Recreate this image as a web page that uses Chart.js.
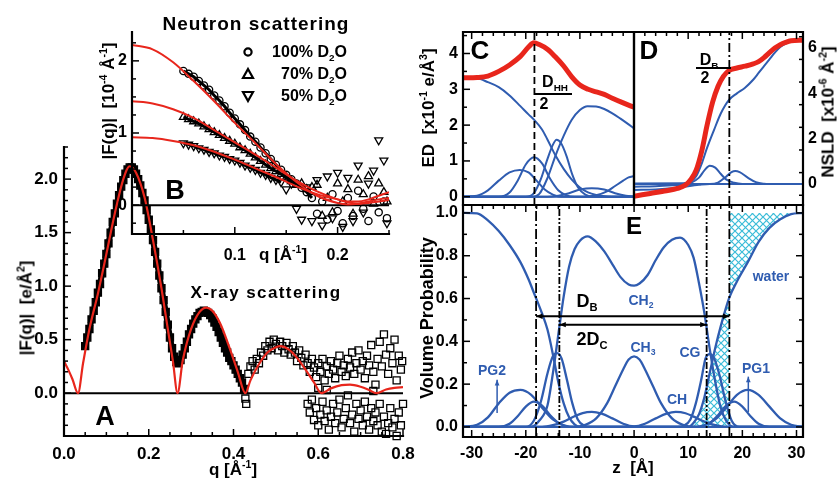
<!DOCTYPE html>
<html>
<head>
<meta charset="utf-8">
<script src="https://cdn.jsdelivr.net/npm/chart.js@4.4.1/dist/chart.umd.min.js"></script>
<style>
  html, body { margin: 0; padding: 0; background: #fff; }
  #fig { position: relative; width: 839px; height: 478px; overflow: hidden; font-family: 'Liberation Sans', Arial, sans-serif; font-weight: bold; color: #000; }
  #fig canvas { position: absolute; left: 0; top: 0; }
  .t { position: absolute; white-space: nowrap; line-height: 1; transform: translate(-50%, -50%); }
  .r { transform: translate(-50%, -50%) rotate(-90deg); }
  .re { transform: translate(-100%, -50%); }
  .blue { color: #2f5cb0; }
  sub, sup { font-size: 62%; line-height: 0; }
  sub { vertical-align: -0.4em; }
  sup { vertical-align: 0.65em; }
  .bar { position: absolute; height: 2px; background: #000; }
</style>
</head>
<body>
<div id="fig">
  <canvas id="chartA" width="839" height="478"></canvas>
  <canvas id="chartB" width="839" height="478"></canvas>
  <canvas id="chartC" width="839" height="478"></canvas>
  <canvas id="chartD" width="839" height="478"></canvas>
  <canvas id="chartE" width="839" height="478"></canvas>

  <!-- panel A -->
  <div class="t r" style="left:26px;top:308px;font-size:17px">|F(q)|&nbsp; [e/Å<sup>2</sup>]</div>
  <div class="t" style="left:233px;top:469px;font-size:17px">q [Å<sup>-1</sup>]</div>
  <div class="t" style="left:266px;top:292px;font-size:17px;letter-spacing:1.4px">X-ray scattering</div>
  <div class="t" style="left:105px;top:416px;font-size:27px">A</div>

  <!-- panel B -->
  <div class="t" style="left:256px;top:23px;font-size:19px;letter-spacing:1px">Neutron scattering</div>
  <div class="t re" style="left:347px;top:52px;font-size:16px">100% D<sub>2</sub>O</div>
  <div class="t re" style="left:347px;top:74px;font-size:16px">70% D<sub>2</sub>O</div>
  <div class="t re" style="left:347px;top:96px;font-size:16px">50% D<sub>2</sub>O</div>
  <div class="t r" style="left:108px;top:101px;font-size:17px">|F(q)|&nbsp; [10<sup>-4</sup> Å<sup>-1</sup>]</div>
  <div class="t" style="left:283px;top:254px;font-size:17px">q [Å<sup>-1</sup>]</div>
  <div class="t" style="left:175px;top:190px;font-size:27px">B</div>

  <!-- panels C, D, E -->
  <div class="t r" style="left:428px;top:108px;font-size:17px">ED&nbsp; [x10<sup>-1</sup> e/Å<sup>3</sup>]</div>
  <div class="t r" style="left:828px;top:112px;font-size:17px">NSLD&nbsp; [x10<sup>-6</sup> Å<sup>-2</sup>]</div>
  <div class="t r" style="left:427px;top:318px;font-size:18px">Volume Probability</div>
  <div class="t" style="left:633px;top:467px;font-size:17px">z&nbsp; [Å]</div>
  <div class="t" style="left:480px;top:50px;font-size:26px">C</div>
  <div class="t" style="left:649px;top:50px;font-size:26px">D</div>
  <div class="t" style="left:634px;top:226px;font-size:24px">E</div>

  <div class="t" style="left:555px;top:82px;font-size:16px">D<sub>HH</sub></div>
  <div class="bar" style="left:535px;top:93px;width:37px"></div>
  <div class="t" style="left:544px;top:104px;font-size:16px">2</div>

  <div class="t" style="left:709px;top:60px;font-size:16px">D<sub>B</sub></div>
  <div class="bar" style="left:696px;top:67px;width:35px"></div>
  <div class="t" style="left:705px;top:78px;font-size:16px">2</div>

  <div class="t" style="left:587px;top:301px;font-size:18px">D<sub>B</sub></div>
  <div class="t" style="left:592px;top:339px;font-size:18px">2D<sub>C</sub></div>
  <div class="t blue" style="left:641px;top:300px;font-size:14px">CH<sub>2</sub></div>
  <div class="t blue" style="left:643px;top:347px;font-size:14px">CH<sub>3</sub></div>
  <div class="t blue" style="left:690px;top:352px;font-size:14px">CG</div>
  <div class="t blue" style="left:677px;top:399px;font-size:14px">CH</div>
  <div class="t blue" style="left:492px;top:370px;font-size:14px">PG2</div>
  <div class="t blue" style="left:756px;top:368px;font-size:14px">PG1</div>
  <div class="t blue" style="left:771px;top:276px;font-size:14px">water</div>
</div>

<script>
// ---- panel A: X-ray form factor ----
const xrayFitQ = [0.00, 0.01, 0.02, 0.033, 0.045, 0.06, 0.08, 0.10, 0.12, 0.14, 0.155, 0.17, 0.19, 0.21, 0.23, 0.245, 0.257, 0.268,
  0.28, 0.30, 0.32, 0.336, 0.35, 0.37, 0.39, 0.41, 0.428, 0.44, 0.46, 0.48, 0.50, 0.51, 0.53, 0.55, 0.57, 0.59, 0.607,
  0.63, 0.655, 0.675, 0.70, 0.72, 0.737, 0.76, 0.78, 0.80];
const xrayFitF = [0.30, 0.22, 0.13, 0.00, 0.28, 0.60, 0.93, 1.30, 1.68, 2.00, 2.12, 2.06, 1.83, 1.43, 0.98, 0.60, 0.30, 0.00,
  0.30, 0.60, 0.76, 0.80, 0.77, 0.64, 0.43, 0.20, 0.00, 0.12, 0.27, 0.38, 0.43, 0.44, 0.41, 0.33, 0.22, 0.10, 0.00,
  0.045, 0.075, 0.08, 0.06, 0.03, 0.00, 0.035, 0.05, 0.056];

const xrayQ = [0.050, 0.055, 0.060, 0.065, 0.070, 0.075, 0.080, 0.085, 0.090, 0.095, 0.100, 0.105, 0.110, 0.115, 0.120, 0.125,
  0.130, 0.135, 0.140, 0.145, 0.150, 0.155, 0.160, 0.165, 0.170, 0.175, 0.180, 0.185, 0.190, 0.195, 0.200, 0.205, 0.210,
  0.215, 0.220, 0.225, 0.230, 0.235, 0.240, 0.245, 0.250, 0.255, 0.260, 0.265, 0.270, 0.275, 0.280, 0.285, 0.290, 0.295,
  0.300, 0.305, 0.310, 0.315, 0.320, 0.325, 0.330, 0.335, 0.340, 0.345, 0.350, 0.355, 0.360, 0.365, 0.370, 0.375, 0.380,
  0.385, 0.390, 0.395, 0.400, 0.405, 0.410, 0.415, 0.420, 0.425,
  0.428, 0.430, 0.435, 0.440, 0.445, 0.450, 0.455, 0.460, 0.465, 0.470, 0.475, 0.480, 0.485, 0.490, 0.495, 0.500, 0.505,
  0.510, 0.515, 0.520, 0.525, 0.530, 0.535, 0.540, 0.545, 0.550, 0.555, 0.560, 0.565, 0.570, 0.575, 0.580, 0.585, 0.590,
  0.595, 0.600, 0.605, 0.610, 0.615, 0.620, 0.625, 0.630, 0.635, 0.640, 0.645, 0.650, 0.655, 0.660, 0.665, 0.670, 0.675,
  0.680, 0.685, 0.690, 0.695, 0.700, 0.705, 0.710, 0.715, 0.720, 0.725, 0.730, 0.735, 0.740, 0.745, 0.750, 0.755, 0.760,
  0.765, 0.770, 0.775, 0.780, 0.785, 0.790, 0.795, 0.798, 0.600, 0.620, 0.730,
  0.575, 0.580, 0.585, 0.590, 0.595, 0.600, 0.605, 0.610, 0.615, 0.620, 0.625, 0.630, 0.635, 0.640, 0.645, 0.650, 0.655,
  0.660, 0.665, 0.670, 0.675, 0.680, 0.685, 0.690, 0.695, 0.700, 0.705, 0.710, 0.715, 0.720, 0.725, 0.730, 0.735, 0.740,
  0.745, 0.750, 0.755, 0.760, 0.765, 0.770, 0.775, 0.780, 0.785, 0.790, 0.795, 0.800];
const xrayF = [0.44, 0.52, 0.60, 0.69, 0.77, 0.85, 0.94, 1.02, 1.12, 1.21, 1.30, 1.40, 1.50, 1.60, 1.68, 1.77,
  1.85, 1.93, 1.99, 2.05, 2.09, 2.11, 2.11, 2.09, 2.05, 2.00, 1.94, 1.87, 1.80, 1.71, 1.62, 1.53, 1.43,
  1.32, 1.21, 1.10, 0.98, 0.87, 0.76, 0.64, 0.52, 0.42, 0.34, 0.29, 0.28, 0.31, 0.36, 0.42, 0.48, 0.55,
  0.60, 0.65, 0.69, 0.72, 0.75, 0.76, 0.77, 0.76, 0.75, 0.73, 0.70, 0.66, 0.62, 0.57, 0.52, 0.47, 0.42,
  0.38, 0.33, 0.30, 0.26, 0.22, 0.18, 0.14, 0.10, 0.04,
  -0.05, -0.10, 0.18, 0.25, 0.30, 0.22, 0.32, 0.28, 0.38, 0.35, 0.44, 0.40, 0.48, 0.42, 0.50, 0.46, 0.40,
  0.48, 0.44, 0.38, 0.47, 0.41, 0.36, 0.44, 0.38, 0.30, 0.40, 0.33, 0.26, 0.36, 0.28, 0.20, 0.32, 0.24,
  0.15, 0.28, 0.20, 0.32, 0.12, 0.25, 0.18, 0.30, 0.22, 0.14, 0.28, 0.35, 0.20, 0.26, 0.16, 0.32, 0.24,
  0.38, 0.18, 0.28, 0.40, 0.22, 0.30, 0.14, 0.35, 0.26, 0.45, 0.20, 0.08, 0.32, 0.48, 0.25, 0.55, 0.36,
  0.18, 0.42, 0.28, 0.50, 0.12, 0.35, 0.22, 0.30, 0.05, 0.03, 0.02,
  -0.10, -0.18, -0.06, -0.25, -0.14, -0.30, -0.20, -0.08, -0.26, -0.16, -0.34, -0.22, -0.10, -0.28, -0.18, -0.06, -0.32,
  -0.24, -0.14, -0.02, -0.28, -0.20, -0.36, -0.10, -0.24, -0.16, -0.30, -0.08, -0.22, -0.34, -0.14, -0.26, -0.18, -0.30,
  -0.10, -0.36, -0.22, -0.38, -0.28, -0.14, -0.32, -0.24, -0.40, -0.18, -0.30, -0.10];

// ---- panel B: neutron form factors ----
const nFitQ = [0, 0.02, 0.04, 0.06, 0.08, 0.10, 0.12, 0.14, 0.16, 0.18, 0.20, 0.21, 0.22, 0.23, 0.24, 0.25];
const nFit100 = [2.22, 2.16, 1.98, 1.72, 1.44, 1.14, 0.86, 0.57, 0.32, 0.13, 0.03, 0.01, 0.02, 0.05, 0.08, 0.10];
const nFit70 = [1.44, 1.41, 1.33, 1.21, 1.04, 0.87, 0.70, 0.52, 0.34, 0.19, 0.08, 0.04, 0.02, 0.03, 0.05, 0.07];
const nFit50 = [0.94, 0.93, 0.89, 0.83, 0.74, 0.63, 0.51, 0.39, 0.26, 0.15, 0.08, 0.05, 0.05, 0.08, 0.13, 0.18];

const nQ = [0.050, 0.055, 0.060, 0.065, 0.070, 0.075, 0.080, 0.085, 0.090, 0.095, 0.100, 0.105, 0.110, 0.115, 0.120, 0.125,
  0.130, 0.135, 0.140, 0.145, 0.150, 0.155, 0.160, 0.165, 0.170, 0.175, 0.180, 0.185, 0.190, 0.195, 0.200, 0.205, 0.210,
  0.215, 0.220, 0.225, 0.230, 0.235, 0.240, 0.245, 0.248];
const n100 = [1.86, 1.82, 1.78, 1.72, 1.66, 1.60, 1.52, 1.45, 1.37, 1.28, 1.20, 1.12, 1.04, 0.95, 0.88, 0.80,
  0.72, 0.64, 0.56, 0.49, 0.42, 0.36, 0.30, 0.24, 0.18, 0.10, -0.12, 0.05, -0.20, 0.15, -0.08, -0.25, 0.10,
  -0.15, 0.20, -0.05, -0.22, 0.12, -0.10, 0.05, -0.18];
const n70 = [1.22, 1.19, 1.16, 1.13, 1.09, 1.05, 1.01, 0.97, 0.93, 0.89, 0.85, 0.80, 0.76, 0.71, 0.66, 0.61,
  0.56, 0.51, 0.47, 0.43, 0.38, 0.33, 0.28, 0.30, 0.22, 0.25, 0.28, -0.15, 0.10, -0.10, 0.30, 0.05, 0.22,
  -0.12, 0.35, 0.15, 0.40, 0.02, 0.30, 0.18, 0.05];
const n50 = [0.86, 0.84, 0.82, 0.79, 0.77, 0.74, 0.72, 0.69, 0.67, 0.64, 0.62, 0.59, 0.55, 0.52, 0.49, 0.45,
  0.42, 0.38, 0.35, 0.32, 0.22, 0.30, -0.05, -0.20, 0.25, -0.22, 0.35, -0.28, 0.40, -0.18, 0.45, -0.30, 0.38,
  -0.22, 0.55, -0.10, 0.30, 0.48, 0.90, 0.62, -0.25];

// ---- panel C: electron density components, z [A] vs ED ----
const cTotal = [[-31.6, 3.32], [-29, 3.33], [-27, 3.37], [-25, 3.5], [-23, 3.68], [-21, 3.92], [-19.5, 4.18], [-18.5, 4.3],
  [-17.5, 4.25], [-16, 4.12], [-14.5, 3.9], [-13, 3.65], [-11.5, 3.35], [-10, 3.12], [-8.5, 3.0], [-7, 2.93],
  [-5.5, 2.86], [-4, 2.75], [-2, 2.62], [0, 2.5]];
const cWater = [[-31.6, 3.3], [-29, 3.3], [-27, 3.2], [-25, 3.06], [-23, 2.83], [-21, 2.53], [-19.5, 2.3], [-18.4, 2.14],
  [-17, 1.88], [-16, 1.6], [-14.5, 1.15], [-13, 0.78], [-11.5, 0.48], [-10, 0.26], [-8.5, 0.12], [-7, 0.05],
  [-5, 0.01], [-3, 0], [0, 0]];
const cCH2 = [[-31.6, 0], [-19, 0], [-17.5, 0.08], [-16, 0.52], [-14.5, 1.15], [-13, 1.7], [-11.5, 2.15], [-10, 2.42],
  [-8.6, 2.53], [-7, 2.52], [-5.5, 2.45], [-4, 2.33], [-2.5, 2.18], [-1, 2.02], [0, 1.91]];
const cCG = [[-31.6, 0], [-20, 0], [-18.5, 0.1], [-17.2, 0.5], [-16, 1.05], [-15, 1.45], [-14.3, 1.59], [-13.5, 1.5],
  [-12.5, 1.15], [-11.4, 0.62], [-10.3, 0.25], [-9, 0.06], [-7.5, 0], [0, 0]];
const cPG1 = [[-31.6, 0], [-25, 0], [-23, 0.12], [-21.5, 0.45], [-20, 0.9], [-18.5, 1.1], [-17, 0.93], [-15.5, 0.5],
  [-14, 0.18], [-12.5, 0.04], [-11, 0], [0, 0]];
const cPG2 = [[-31.6, 0], [-29, 0.03], [-27, 0.18], [-25, 0.45], [-23, 0.68], [-21.1, 0.75], [-19.5, 0.68], [-18, 0.45],
  [-16.5, 0.2], [-15, 0.06], [-13.5, 0], [0, 0]];
const cCH = [[-31.6, 0], [-16, 0], [-14, 0.03], [-12, 0.1], [-10, 0.2], [-7.8, 0.24], [-5.5, 0.2], [-3.5, 0.1],
  [-1.5, 0.03], [0, 0.01]];
const cCH3 = [[-31.6, 0], [-9, 0], [-7, 0.04], [-5, 0.15], [-3.5, 0.3], [-2, 0.45], [-1, 0.54], [0, 0.58]];

// ---- panel D: neutron SLD components ----
const dTotal = [[0, -0.54], [3, -0.42], [6, -0.3], [8, -0.2], [9.5, -0.05], [10.5, 0.2], [11.5, 0.62], [12.5, 1.45],
  [13.5, 2.6], [14.5, 3.6], [15.5, 4.3], [16.5, 4.75], [17.5, 5.0], [19, 5.12], [20.5, 5.2], [22, 5.3], [23, 5.4],
  [24, 5.58], [25, 5.8], [26, 6.0], [27, 6.15], [28, 6.25], [29, 6.32], [31.2, 6.35]];
const dWater = [[0, 0.02], [9, 0.03], [10.5, 0.1], [11.5, 0.35], [12.5, 0.9], [13.5, 1.6], [14.8, 2.4], [16, 3.1],
  [17.5, 3.7], [19, 4.0], [20.5, 4.25], [22, 4.6], [23, 4.9], [24, 5.2], [25, 5.5], [26, 5.8], [27, 6.05], [28, 6.2],
  [29, 6.3], [31.2, 6.35]];
const dCG = [[0, 0], [9, 0], [10.5, 0.05], [12, 0.28], [13, 0.6], [14, 0.8], [15, 0.72], [16, 0.45], [17, 0.2],
  [18.5, 0.05], [20, 0], [31.2, 0]];
const dPG1 = [[0, 0], [14, 0], [15.5, 0.06], [17, 0.32], [18, 0.52], [18.7, 0.57], [19.5, 0.52], [21, 0.28], [22.5, 0.08],
  [24, 0.01], [25, 0], [31.2, 0]];
const dCH2 = [[0, -0.27], [4, -0.24], [8, -0.17], [10, -0.1], [12, -0.04], [14, 0], [31.2, 0]];
const dCH3 = [[0, -0.12], [4, -0.1], [8, -0.05], [10, -0.02], [12, 0], [31.2, 0]];

// ---- panel E: volume probabilities ----
const eWater = [[-31.6, 1.0], [-29, 0.998], [-27, 0.965], [-25, 0.915], [-23, 0.85], [-21, 0.77], [-19.5, 0.69],
  [-18.4, 0.62], [-17, 0.53], [-16, 0.455], [-15, 0.34], [-14, 0.21], [-13, 0.11], [-12, 0.045], [-11, 0.012], [-10, 0],
  [10, 0], [11, 0.02], [12, 0.06], [13, 0.14], [14, 0.255], [15, 0.37], [16, 0.47], [17.6, 0.605], [19, 0.68],
  [21, 0.77], [23, 0.865], [25, 0.93], [27, 0.97], [29, 0.994], [31.2, 1.0]];
const eCH2 = [[-31.6, 0], [-19, 0], [-17.5, 0.03], [-16, 0.1], [-15, 0.25], [-14, 0.43], [-13, 0.61], [-12, 0.75],
  [-11, 0.83], [-10, 0.87], [-8.6, 0.89], [-7, 0.865], [-5.5, 0.82], [-4, 0.76], [-2.5, 0.7], [-1, 0.665], [0, 0.66],
  [1, 0.67], [2.5, 0.71], [4, 0.78], [5.5, 0.84], [7, 0.875], [8.5, 0.885], [10, 0.85], [11, 0.79], [12, 0.67],
  [13, 0.53], [14, 0.36], [15, 0.21], [16, 0.09], [17, 0.03], [18.5, 0], [31.2, 0]];
const eCH3 = [[-31.6, 0], [-11, 0], [-9, 0.01], [-7, 0.04], [-5, 0.11], [-3.5, 0.19], [-2, 0.27], [-1, 0.315], [0, 0.33],
  [1, 0.315], [2, 0.27], [3.5, 0.19], [5, 0.11], [7, 0.04], [9, 0.01], [11, 0], [31.2, 0]];
const eCG = [[-31.6, 0], [-20, 0], [-18.5, 0.03], [-17.2, 0.12], [-16, 0.25], [-15, 0.33], [-14.2, 0.345], [-13.4, 0.32],
  [-12.4, 0.22], [-11.4, 0.11], [-10.4, 0.035], [-9.2, 0.005], [-8, 0], [8, 0], [9.2, 0.005], [10.4, 0.035],
  [11.4, 0.11], [12.4, 0.22], [13.2, 0.32], [14, 0.34], [14.8, 0.32], [15.8, 0.24], [16.8, 0.13], [18, 0.03],
  [19.5, 0], [31.2, 0]];
const eCH = [[-31.6, 0], [-17, 0], [-15, 0.008], [-13, 0.025], [-11, 0.05], [-9.5, 0.065], [-7.8, 0.07], [-6, 0.062],
  [-4, 0.04], [-2, 0.015], [0, 0.003], [2, 0.015], [4, 0.04], [6, 0.062], [7.7, 0.07], [9.5, 0.064], [11, 0.048],
  [13, 0.025], [15, 0.008], [17, 0], [31.2, 0]];
const ePG1 = [[-31.6, 0], [-25, 0], [-23, 0.015], [-21.5, 0.05], [-20, 0.095], [-18.5, 0.118], [-17, 0.1], [-15.5, 0.055],
  [-14, 0.02], [-12.5, 0.003], [-11, 0], [11, 0], [12.5, 0.003], [14, 0.02], [15.5, 0.055], [17, 0.1], [18.5, 0.118],
  [20, 0.095], [21.5, 0.05], [23, 0.015], [25, 0], [31.2, 0]];
const ePG2 = [[-31.6, 0], [-29, 0.01], [-27, 0.045], [-25, 0.11], [-23, 0.16], [-21, 0.173], [-19, 0.15], [-17, 0.09],
  [-15, 0.035], [-13, 0.008], [-11, 0], [11, 0], [13, 0.008], [15, 0.035], [17, 0.09], [19, 0.15], [21, 0.173],
  [23, 0.15], [25, 0.095], [27, 0.04], [29, 0.01], [31.2, 0]];

const W = 839, H = 478;
const RED = '#e8261c';
const BLUE = '#2f5cb0';
const FONT = "'Liberation Sans', Arial, sans-serif";

const pairs = (qs, vs) => qs.map((q, i) => ({ x: q, y: vs[i] }));
const pts = (list) => list.map(([x, y]) => ({ x, y }));

function curve(data, color, width) {
  return {
    data, borderColor: color, borderWidth: width, pointRadius: 0,
    cubicInterpolationMode: 'monotone', fill: false
  };
}

function markers(data, style, radius, rotation, lineW) {
  return {
    data, showLine: !!lineW, borderColor: '#000', borderWidth: lineW || 0,
    pointStyle: style, pointRadius: radius, pointRotation: rotation || 0,
    pointBorderColor: '#000', pointBackgroundColor: 'rgba(255,255,255,0)', pointBorderWidth: 1.3,
    clip: false
  };
}

function arrowHead(ctx, x1, y1, x2, y2, size) {
  const ang = Math.atan2(y2 - y1, x2 - x1);
  ctx.beginPath();
  ctx.moveTo(x2, y2);
  ctx.lineTo(x2 - size * Math.cos(ang - 0.4), y2 - size * Math.sin(ang - 0.4));
  ctx.lineTo(x2 - size * Math.cos(ang + 0.4), y2 - size * Math.sin(ang + 0.4));
  ctx.closePath();
  ctx.fill();
}

// frames, inward ticks, reference lines and arrows, all placed through the chart scales
const deco = {
  id: 'deco',
  beforeDatasetsDraw(chart, args, o) {
    const { ctx, chartArea: a, scales: { y } } = chart;
    if (!o.zero) return;
    const py = y.getPixelForValue(0);
    ctx.save();
    ctx.strokeStyle = '#000';
    ctx.lineWidth = 2;
    ctx.beginPath(); ctx.moveTo(a.left, py); ctx.lineTo(a.right, py); ctx.stroke();
    ctx.restore();
  },
  afterDatasetsDraw(chart, args, o) {
    const { ctx, chartArea: a, scales: { x, y } } = chart;
    ctx.save();
    ctx.strokeStyle = '#000';
    ctx.fillStyle = '#000';

    (o.vlines || []).forEach((l) => {
      const px = x.getPixelForValue(l.x);
      ctx.setLineDash(l.dash);
      ctx.lineWidth = 1.8;
      ctx.beginPath(); ctx.moveTo(px, a.bottom); ctx.lineTo(px, a.top); ctx.stroke();
    });
    ctx.setLineDash([]);

    (o.arrows || []).forEach((ar) => {
      const x1 = x.getPixelForValue(ar.x1), x2 = x.getPixelForValue(ar.x2);
      const y1 = y.getPixelForValue(ar.y1), y2 = y.getPixelForValue(ar.y2);
      ctx.strokeStyle = ar.color || '#000';
      ctx.fillStyle = ar.color || '#000';
      ctx.lineWidth = ar.w || 2;
      ctx.beginPath(); ctx.moveTo(x1, y1); ctx.lineTo(x2, y2); ctx.stroke();
      arrowHead(ctx, x1, y1, x2, y2, ar.head || 7);
      if (ar.both) arrowHead(ctx, x2, y2, x1, y1, ar.head || 7);
    });

    (o.marks || []).forEach((m) => {
      ctx.strokeStyle = '#000';
      ctx.lineWidth = 2.2;
      ctx.beginPath();
      if (m.style === 'circle') {
        ctx.arc(m.px, m.py, 3.6, 0, Math.PI * 2);
      } else {
        const s = m.style === 'up' ? 1 : -1;
        ctx.moveTo(m.px, m.py - s * 5);
        ctx.lineTo(m.px + 5, m.py + s * 4);
        ctx.lineTo(m.px - 5, m.py + s * 4);
        ctx.closePath();
      }
      ctx.stroke();
    });

    ctx.strokeStyle = '#000';
    ctx.lineWidth = 1.5;
    (o.ticks || []).forEach((t) => {
      const vert = t.side === 'left' || t.side === 'right';
      const sc = vert ? y : x;
      const base = a[t.side];
      const dir = (t.side === 'left' || t.side === 'top') ? 1 : -1;
      for (let v = t.from; v <= t.to + 1e-9; v += t.step) {
        if (v < sc.min - 1e-9 || v > sc.max + 1e-9) continue;
        const p = sc.getPixelForValue(v);
        const r = v / t.major;
        const len = Math.abs(r - Math.round(r)) < 1e-6 ? 7 : 4;
        ctx.beginPath();
        if (vert) { ctx.moveTo(base, p); ctx.lineTo(base + dir * len, p); }
        else { ctx.moveTo(p, base); ctx.lineTo(p, base + dir * len); }
        ctx.stroke();
      }
    });

    ctx.lineWidth = 2.2;
    ctx.lineCap = 'square';
    ctx.beginPath();
    (o.frame || []).forEach((s) => {
      if (s === 'left') { ctx.moveTo(a.left, a.top); ctx.lineTo(a.left, a.bottom); }
      if (s === 'right') { ctx.moveTo(a.right, a.top); ctx.lineTo(a.right, a.bottom); }
      if (s === 'top') { ctx.moveTo(a.left, a.top); ctx.lineTo(a.right, a.top); }
      if (s === 'bottom') { ctx.moveTo(a.left, a.bottom); ctx.lineTo(a.right, a.bottom); }
    });
    ctx.stroke();
    ctx.restore();
  }
};

function fixSize(size) {
  return (scale) => {
    if (scale.isHorizontal()) scale.height = size;
    else scale.width = size;
    scale.paddingLeft = scale.paddingRight = scale.paddingTop = scale.paddingBottom = 0;
  };
}

function axis(range, labels, size, fontSize, pad, fmt, position) {
  return {
    type: 'linear', position, min: range[0], max: range[1], bounds: 'data',
    display: labels.length > 0,
    grid: { display: false, drawTicks: false },
    border: { display: false },
    afterFit: fixSize(size),
    afterBuildTicks: (s) => { s.ticks = labels.map((v) => ({ value: v })); },
    ticks: {
      autoSkip: false, maxRotation: 0, minRotation: 0, color: '#000', padding: pad,
      font: { family: FONT, size: fontSize, weight: 'bold' },
      callback: fmt
    }
  };
}

// area = plot rectangle in page pixels
function panel(id, area, ax, datasets, decoOpts) {
  const ys = ax.yl.length ? ax.ys : 0;
  const xs = ax.xl.length ? ax.xs : 0;
  return new Chart(document.getElementById(id), {
    type: 'line',
    data: { datasets },
    options: {
      responsive: false, animation: false, events: [],
      layout: {
        padding: {
          left: area.l - (ax.right ? 0 : ys),
          right: W - area.r - (ax.right ? ys : 0),
          top: area.t,
          bottom: H - area.b - xs
        }
      },
      plugins: { legend: { display: false }, tooltip: { enabled: false }, deco: decoOpts },
      scales: {
        x: axis(ax.xr, ax.xl, xs, ax.fs, ax.xp, ax.xf, 'bottom'),
        y: axis(ax.yr, ax.yl, ys, ax.fs, ax.yp, ax.yf, ax.right ? 'right' : 'left')
      }
    },
    plugins: [deco]
  });
}

const f1 = (v) => v.toFixed(1);
const f0 = (v) => String(v);

// panel A
const xray = pairs(xrayQ, xrayF);
const xrayBand = xray.slice(0, 76);
const xrayRest = xray.slice(76);
panel('chartA', { l: 64, r: 403, t: 147, b: 436 },
  { xr: [0, 0.8], yr: [-0.4, 2.3], xl: [0, 0.2, 0.4, 0.6, 0.8], yl: [0, 0.5, 1, 1.5, 2], xs: 40, ys: 64, fs: 17,
    xp: 8, yp: 6, xf: f1, yf: f1 },
  [
    curve(pairs(xrayFitQ, xrayFitF), RED, 2.2),
    Object.assign(markers(xrayBand, 'rect', 5, 0, 6), { pointBackgroundColor: '#000' }),
    markers(xrayRest, 'rect', 5)
  ],
  {
    zero: true, frame: ['left', 'bottom'],
    ticks: [
      { side: 'left', from: -0.4, to: 2.3, step: 0.1, major: 0.5 },
      { side: 'bottom', from: 0, to: 0.8, step: 0.05, major: 0.2 }
    ]
  });

// panel B (inset)
const n100pts = pairs(nQ, n100), n70pts = pairs(nQ, n70), n50pts = pairs(nQ, n50);
panel('chartB', { l: 132, r: 389, t: 32, b: 234 },
  { xr: [0, 0.25], yr: [-0.4, 2.4], xl: [0.1, 0.2], yl: [0, 1, 2], xs: 30, ys: 50, fs: 16,
    xp: 12, yp: 5, xf: f1, yf: f0 },
  [
    curve(pairs(nFitQ, nFit100), RED, 2),
    curve(pairs(nFitQ, nFit70), RED, 2),
    curve(pairs(nFitQ, nFit50), RED, 2),
    markers(n100pts.slice(0, 26), 'circle', 3.6, 0, 3),
    markers(n100pts.slice(26), 'circle', 3.6),
    markers(n70pts.slice(0, 23), 'triangle', 4.6, 0, 3),
    markers(n70pts.slice(23), 'triangle', 4.6),
    markers(n50pts.slice(0, 20), 'triangle', 4.6, 180, 3),
    markers(n50pts.slice(20), 'triangle', 4.6, 180)
  ],
  {
    zero: true, frame: ['left', 'bottom'],
    ticks: [
      { side: 'left', from: -0.25, to: 2.4, step: 0.25, major: 1 },
      { side: 'bottom', from: 0.05, to: 0.25, step: 0.05, major: 0.1 }
    ],
    marks: [
      { px: 248, py: 52, style: 'circle' },
      { px: 248, py: 74, style: 'up' },
      { px: 248, py: 96, style: 'down' }
    ]
  });

// panel C
panel('chartC', { l: 463, r: 634, t: 32, b: 205 },
  { xr: [-31.6, 0], yr: [-0.23, 4.6], xl: [], yl: [0, 1, 2, 3, 4], xs: 0, ys: 40, fs: 16, xp: 0, yp: 5, yf: f0 },
  [
    curve(pts(cTotal), RED, 5),
    curve(pts(cWater), BLUE, 2),
    curve(pts(cCH2), BLUE, 2),
    curve(pts(cCG), BLUE, 2),
    curve(pts(cPG1), BLUE, 2),
    curve(pts(cPG2), BLUE, 2),
    curve(pts(cCH), BLUE, 2),
    curve(pts(cCH3), BLUE, 2)
  ],
  {
    frame: ['left', 'top', 'right', 'bottom'],
    vlines: [{ x: -18.4, dash: [7, 4] }],
    ticks: [
      { side: 'left', from: 0, to: 4.5, step: 0.5, major: 1 },
      { side: 'top', from: -30, to: 0, step: 2, major: 10 }
    ]
  });

// panel D
panel('chartD', { l: 634, r: 803, t: 32, b: 205 },
  { xr: [0, 31.2], yr: [-0.93, 6.71], xl: [], yl: [0, 2, 4, 6], xs: 0, ys: 30, fs: 16, xp: 0, yp: 5, yf: f0, right: true },
  [
    curve(pts(dTotal), RED, 5),
    curve(pts(dWater), BLUE, 2),
    curve(pts(dCG), BLUE, 2),
    curve(pts(dPG1), BLUE, 2),
    curve(pts(dCH2), BLUE, 2),
    curve(pts(dCH3), BLUE, 2)
  ],
  {
    frame: ['left', 'top', 'right', 'bottom'],
    vlines: [{ x: 17.6, dash: [9, 3, 2, 3] }],
    ticks: [
      { side: 'right', from: -0.5, to: 6.5, step: 1, major: 2 },
      { side: 'top', from: 0, to: 30, step: 2, major: 10 }
    ]
  });

// panel E
function hatchPattern() {
  const c = document.createElement('canvas');
  c.width = 7; c.height = 7;
  const g = c.getContext('2d');
  g.strokeStyle = '#3bbcd8';
  g.lineWidth = 1.2;
  g.beginPath(); g.moveTo(0, 0); g.lineTo(7, 7); g.moveTo(7, 0); g.lineTo(0, 7); g.stroke();
  return g.createPattern(c, 'repeat');
}
const hatch = hatchPattern();
const waterPts = pts(eWater);
const hatchLow = waterPts.filter((p) => p.x >= 10 && p.x <= 17.6);
const hatchHigh = waterPts.filter((p) => p.x >= 17.6);

panel('chartE', { l: 463, r: 803, t: 205, b: 437 },
  { xr: [-31.6, 31.2], yr: [-0.047, 1.037], xl: [-30, -20, -10, 0, 10, 20, 30], yl: [0, 0.2, 0.4, 0.6, 0.8, 1.0],
    xs: 30, ys: 40, fs: 16, xp: 7, yp: 5, xf: f0, yf: f1 },
  [
    curve(waterPts, BLUE, 2.3),
    curve(pts(eCH2), BLUE, 2.3),
    curve(pts(eCH3), BLUE, 2.3),
    curve(pts(eCG), BLUE, 2.3),
    curve(pts(eCH), BLUE, 2.3),
    curve(pts(ePG1), BLUE, 2.3),
    curve(pts(ePG2), BLUE, 2.3),
    { data: hatchLow, borderWidth: 0, pointRadius: 0, cubicInterpolationMode: 'monotone', fill: 'origin', backgroundColor: hatch },
    { data: hatchHigh, borderWidth: 0, pointRadius: 0, cubicInterpolationMode: 'monotone', fill: { value: 1 }, backgroundColor: hatch }
  ],
  {
    frame: ['left', 'top', 'right', 'bottom'],
    vlines: [
      { x: -18.1, dash: [10, 3, 2, 3] },
      { x: -13.8, dash: [7, 2, 2, 2, 2, 2] },
      { x: 13.4, dash: [7, 2, 2, 2, 2, 2] },
      { x: 17.6, dash: [10, 3, 2, 3] }
    ],
    arrows: [
      { x1: -18.1, x2: 17.6, y1: 0.517, y2: 0.517, both: true },
      { x1: -13.8, x2: 13.4, y1: 0.478, y2: 0.478, both: true },
      { x1: -25.3, x2: -25.3, y1: 0.065, y2: 0.22, color: BLUE, w: 1.5, head: 6 },
      { x1: 21.1, x2: 21.1, y1: 0.07, y2: 0.235, color: BLUE, w: 1.5, head: 6 }
    ],
    ticks: [
      { side: 'left', from: 0, to: 1, step: 0.1, major: 0.2 },
      { side: 'right', from: 0, to: 1, step: 0.1, major: 0.2 },
      { side: 'bottom', from: -30, to: 30, step: 2, major: 10 },
      { side: 'top', from: -30, to: 30, step: 2, major: 10 }
    ]
  });
</script>
</body>
</html>
